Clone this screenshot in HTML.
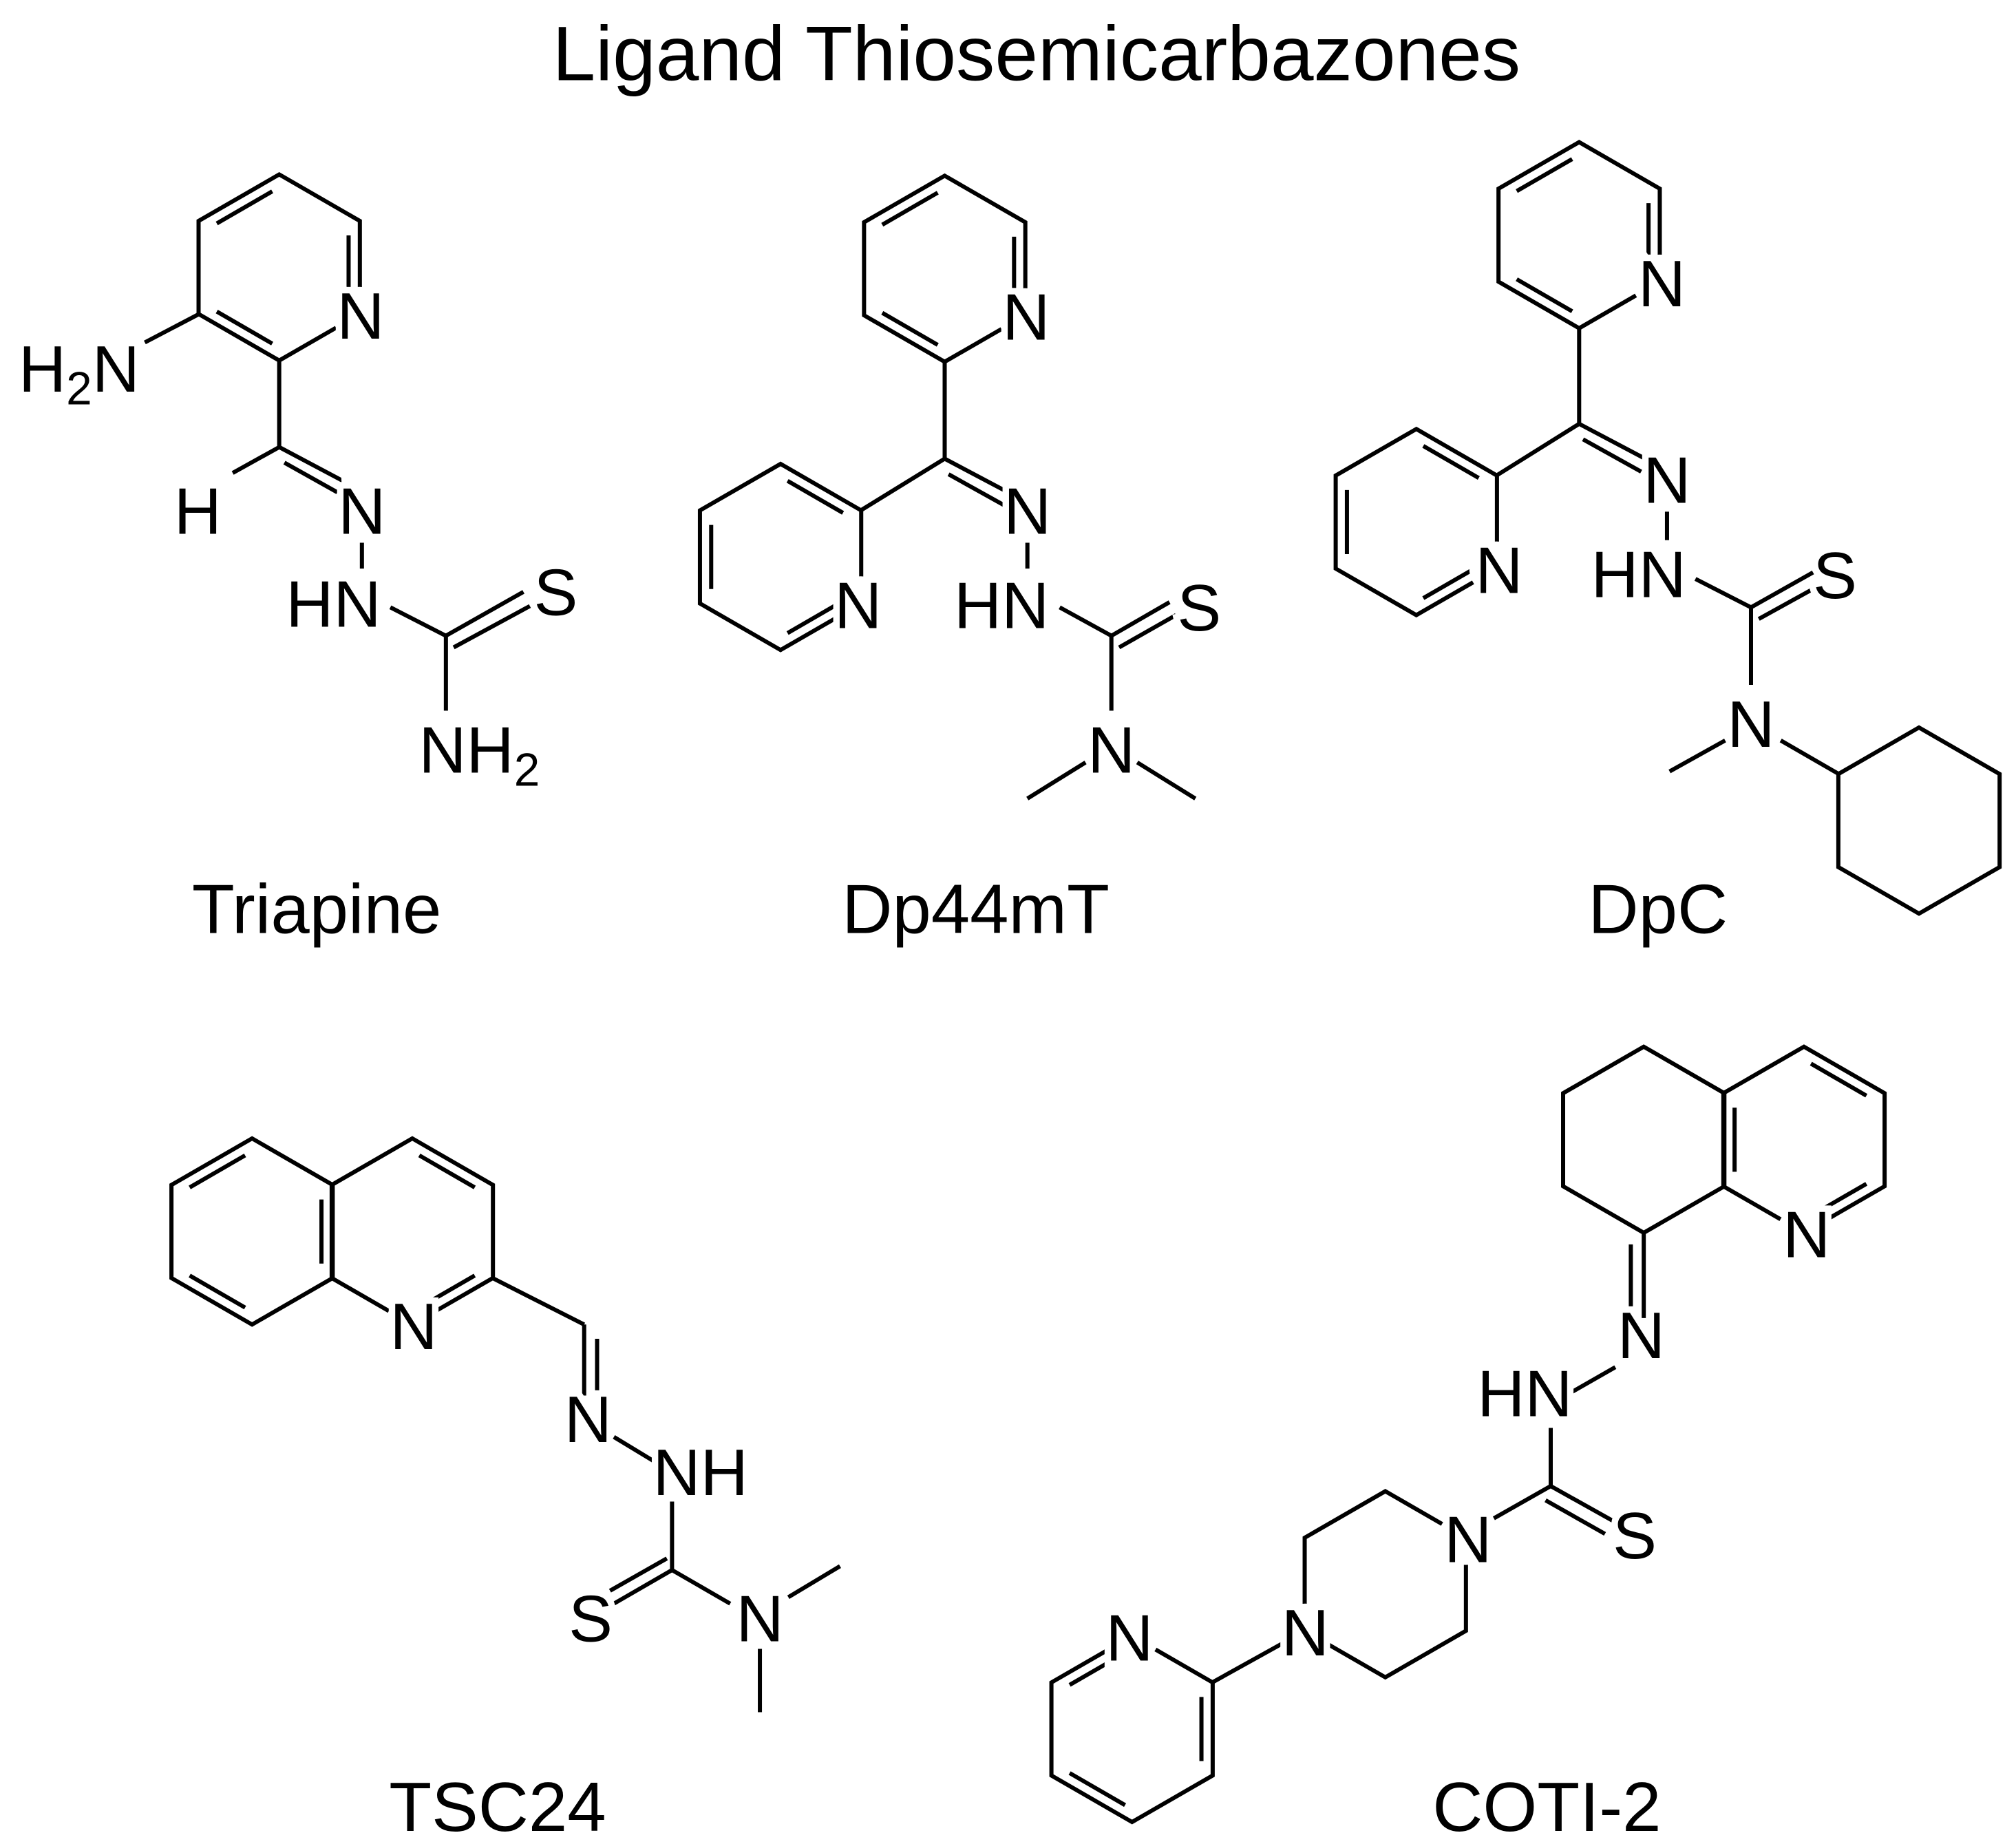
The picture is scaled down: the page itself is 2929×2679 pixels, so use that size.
<!DOCTYPE html>
<html><head><meta charset="utf-8">
<style>
html,body{margin:0;padding:0;background:#fff;}
svg{display:block;}
text{font-family:"Liberation Sans",Arial,sans-serif;fill:#000;}
.a{font-size:51px;text-anchor:middle;stroke:#fff;stroke-width:10px;paint-order:stroke;}
.e{text-anchor:end;}
.st{text-anchor:start;}
.s{font-size:36px;}
.lbl{font-size:54px;text-anchor:middle;}
</style></head>
<body>
<svg width="2929" height="2679" viewBox="0 0 1560 1427" xmlns="http://www.w3.org/2000/svg">
<defs>
<polygon id="hex" points="0,-72 62.4,-36 62.4,36 0,72 -62.4,36 -62.4,-36" fill="none"/>
<line id="e0" x1="5.4" y1="-58.9" x2="48.3" y2="-34.1"/>
<line id="e1" x1="53.7" y1="-24.8" x2="53.7" y2="24.8"/>
<line id="e2" x1="48.3" y1="34.1" x2="5.4" y2="58.9"/>
<line id="e3" x1="-5.4" y1="58.9" x2="-48.3" y2="34.1"/>
<line id="e4" x1="-53.7" y1="24.8" x2="-53.7" y2="-24.8"/>
<line id="e5" x1="-48.3" y1="-34.1" x2="-5.4" y2="-58.9"/>
</defs>
<g stroke="#000" stroke-width="3.2" fill="none">
<!-- Triapine -->
<g transform="translate(216,207)"><use href="#hex"/><use href="#e5"/><use href="#e1"/><use href="#e3"/></g>
<line x1="154" y1="243" x2="112" y2="265"/>
<line x1="216" y1="279" x2="216" y2="346"/>
<line x1="216" y1="346" x2="180" y2="366"/>
<line x1="216" y1="346" x2="265" y2="372"/>
<line x1="220" y1="358" x2="261" y2="381"/>
<line x1="280" y1="420" x2="280" y2="440"/>
<line x1="302" y1="470" x2="345" y2="492"/>
<line x1="345" y1="492" x2="405" y2="458"/>
<line x1="351" y1="501" x2="410" y2="469"/>
<line x1="345" y1="492" x2="345" y2="550"/>
<!-- Dp44mT -->
<g transform="translate(731,208)"><use href="#hex"/><use href="#e5"/><use href="#e1"/><use href="#e3"/></g>
<g transform="translate(604,431)"><use href="#hex"/><use href="#e0"/><use href="#e2"/><use href="#e4"/></g>
<line x1="731" y1="280" x2="731" y2="355"/>
<line x1="731" y1="355" x2="666" y2="395"/>
<line x1="731" y1="355" x2="782" y2="382"/>
<line x1="734" y1="367" x2="777" y2="391"/>
<line x1="795" y1="420" x2="795" y2="440"/>
<line x1="820" y1="470" x2="860" y2="492"/>
<line x1="860" y1="492" x2="905" y2="466"/>
<line x1="866" y1="501" x2="910" y2="476"/>
<line x1="860" y1="492" x2="860" y2="550"/>
<line x1="840" y1="590" x2="795" y2="618"/>
<line x1="880" y1="590" x2="925" y2="618"/>
<!-- DpC -->
<g transform="translate(1222,182)"><use href="#hex"/><use href="#e5"/><use href="#e1"/><use href="#e3"/></g>
<g transform="translate(1096,404)"><use href="#hex"/><use href="#e0"/><use href="#e2"/><use href="#e4"/></g>
<line x1="1222" y1="254" x2="1222" y2="328"/>
<line x1="1222" y1="328" x2="1158" y2="368"/>
<line x1="1222" y1="328" x2="1275" y2="356"/>
<line x1="1225" y1="340" x2="1270" y2="365"/>
<line x1="1290" y1="396" x2="1290" y2="418"/>
<line x1="1312" y1="448" x2="1355" y2="470"/>
<line x1="1355" y1="470" x2="1403" y2="443"/>
<line x1="1361" y1="479" x2="1408" y2="453"/>
<line x1="1355" y1="470" x2="1355" y2="530"/>
<line x1="1335" y1="573" x2="1292" y2="597"/>
<line x1="1378" y1="573" x2="1423" y2="599"/>
<g transform="translate(1485,635)"><use href="#hex"/></g>
<!-- TSC24 -->
<g transform="translate(195,953)"><use href="#hex"/><use href="#e5"/><use href="#e1"/><use href="#e3"/></g>
<g transform="translate(319,953)"><use href="#hex"/><use href="#e0"/><use href="#e2"/></g>
<line x1="381" y1="989" x2="452" y2="1025"/>
<line x1="452" y1="1025" x2="452" y2="1080"/>
<line x1="462" y1="1036" x2="462" y2="1076"/>
<line x1="475" y1="1112" x2="508" y2="1132"/>
<line x1="520" y1="1162" x2="520" y2="1215"/>
<line x1="520" y1="1215" x2="475" y2="1241"/>
<line x1="516" y1="1206" x2="472" y2="1231"/>
<line x1="520" y1="1215" x2="565" y2="1241"/>
<line x1="610" y1="1236" x2="650" y2="1212"/>
<line x1="588" y1="1276" x2="588" y2="1325"/>
<!-- COTI-2 -->
<g transform="translate(1396,882)"><use href="#hex"/><use href="#e0"/><use href="#e2"/><use href="#e4"/></g>
<g transform="translate(1272,882)"><use href="#hex"/></g>
<line x1="1272" y1="954" x2="1272" y2="1020"/>
<line x1="1262" y1="963" x2="1262" y2="1016"/>
<line x1="1250" y1="1058" x2="1215" y2="1078"/>
<line x1="1200" y1="1105" x2="1200" y2="1150"/>
<line x1="1200" y1="1150" x2="1250" y2="1178"/>
<line x1="1196" y1="1161" x2="1242" y2="1187"/>
<line x1="1200" y1="1150" x2="1156" y2="1175"/>
<g transform="translate(1072,1226)"><use href="#hex"/></g>
<line x1="1010" y1="1262" x2="938" y2="1302"/>
<g transform="translate(876,1338)"><use href="#hex"/><use href="#e5"/><use href="#e1"/><use href="#e3"/></g>
</g>
<g fill="#fff">
<circle cx="278" cy="243" r="21"/>
<circle cx="793" cy="244" r="21"/>
<circle cx="666" cy="467" r="21"/>
<circle cx="1284" cy="218" r="21"/>
<circle cx="1158" cy="440" r="21"/>
<circle cx="319" cy="1025" r="21"/>
<circle cx="1396" cy="954" r="21"/>
<circle cx="1134" cy="1190" r="21"/>
<circle cx="1010" cy="1262" r="21"/>
<circle cx="876" cy="1266" r="21"/>
</g>
<g>
<text x="802" y="62" class="lbl" style="font-size:60px">Ligand Thiosemicarbazones</text>
<text x="245" y="722" class="lbl">Triapine</text>
<text x="755" y="722" class="lbl">Dp44mT</text>
<text x="1283" y="722" class="lbl">DpC</text>
<text x="385" y="1417" class="lbl">TSC24</text>
<text x="1197" y="1417" class="lbl">COTI-2</text>

<text x="279" y="262" class="a">N</text>
<text x="108" y="303" class="a e">H<tspan class="s" dy="10">2</tspan><tspan dy="-10">N</tspan></text>
<text x="153" y="413" class="a">H</text>
<text x="280" y="413" class="a">N</text>
<text x="258" y="485" class="a">HN</text>
<text x="430" y="476" class="a">S</text>
<text x="324" y="598" class="a st">NH<tspan class="s" dy="10">2</tspan></text>

<text x="794" y="263" class="a">N</text>
<text x="664" y="486" class="a">N</text>
<text x="795" y="413" class="a">N</text>
<text x="775" y="486" class="a">HN</text>
<text x="928" y="488" class="a">S</text>
<text x="860" y="598" class="a">N</text>

<text x="1286" y="237" class="a">N</text>
<text x="1160" y="459" class="a">N</text>
<text x="1290" y="389" class="a">N</text>
<text x="1268" y="462" class="a">HN</text>
<text x="1420" y="463" class="a">S</text>
<text x="1355" y="578" class="a">N</text>

<text x="320" y="1044" class="a">N</text>
<text x="455" y="1116" class="a">N</text>
<text x="542" y="1157" class="a">NH</text>
<text x="457" y="1270" class="a">S</text>
<text x="588" y="1270" class="a">N</text>

<text x="1398" y="973" class="a">N</text>
<text x="1270" y="1051" class="a">N</text>
<text x="1180" y="1096" class="a">HN</text>
<text x="1265" y="1206" class="a">S</text>
<text x="1136" y="1209" class="a">N</text>
<text x="1010" y="1281" class="a">N</text>
<text x="874" y="1285" class="a">N</text>
</g>
</svg>
</body></html>
